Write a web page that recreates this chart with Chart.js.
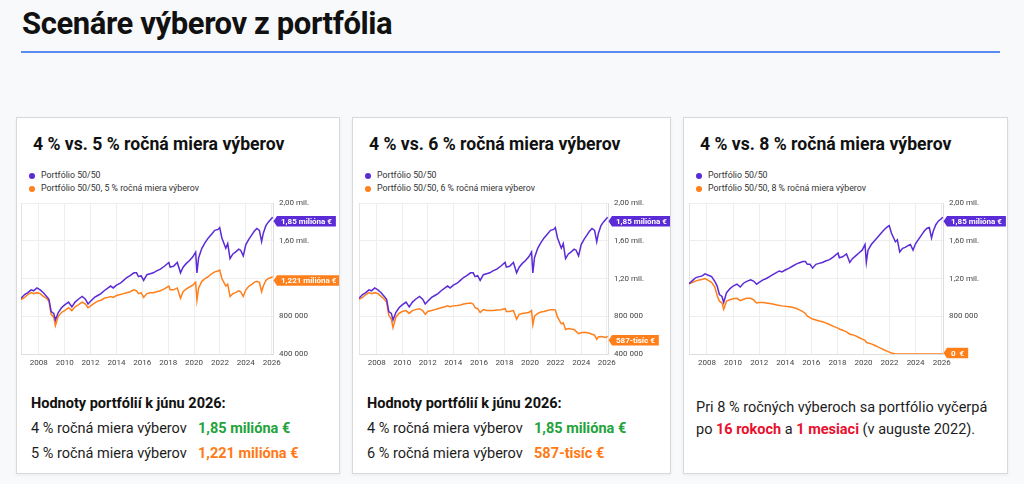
<!DOCTYPE html>
<html lang="sk">
<head>
<meta charset="utf-8">
<title>Scenáre výberov z portfólia</title>
<script src="https://cdn.jsdelivr.net/npm/chart.js@4.4.1/dist/chart.umd.min.js"></script>
<style>
  html, body { margin: 0; padding: 0; }
  body {
    width: 1024px; height: 484px; position: relative; overflow: hidden;
    background: #f8f9fa; color: #1d1d1d;
    font-family: Roboto, "Noto Sans", sans-serif;
  }
  h1 {
    position: absolute; left: 22px; top: 6px; margin: 0;
    font-size: 31px; line-height: 36px; font-weight: 700; color: #111;
    letter-spacing: -0.4px;
  }
  .rule { position: absolute; left: 21px; top: 51px; width: 979px; height: 2px; background: #5b8cf2; }
  .card {
    position: absolute; top: 117px; height: 357px; box-sizing: border-box;
    background: #fff; border: 1px solid #d9d9d9; box-shadow: 0 1px 3px rgba(0,0,0,.06);
  }
  .ctitle {
    position: absolute; left: 16px; top: 16px; white-space: nowrap;
    font-size: 17.6px; line-height: 20px; font-weight: 700; color: #111;
  }
  .legend { position: absolute; left: 12px; top: 51px; font-size: 8.8px; line-height: 13px; color: #333; white-space: nowrap; }
  .legend i { display: inline-block; width: 6px; height: 6px; border-radius: 50%; margin-right: 6px; vertical-align: -0.5px; }
  .cv { position: absolute; top: 78px; height: 177px; right: 0; }
  .summary { position: absolute; left: 14px; top: 273px; font-size: 14.5px; line-height: 25px; white-space: nowrap; }
  .summary .head { font-weight: 700; color: #111; }
  .row { position: relative; }
  .val { position: absolute; left: 167px; top: 0; font-weight: 700; }
  .green { color: #22a33c; }
  .orange { color: #ff7a14; }
  .note { position: absolute; left: 12px; top: 279px; font-size: 14.5px; line-height: 21.5px; white-space: nowrap; }
  .red { color: #e8112d; font-weight: 700; }
</style>
</head>
<body>
<h1>Scenáre výberov z portfólia</h1>
<div class="rule"></div>

<div class="card" style="left:16px;width:324px">
  <div class="ctitle">4 % vs. 5 % ročná miera výberov</div>
  <div class="legend">
    <div><i style="background:#5a2bd6"></i>Portfólio 50/50</div>
    <div><i style="background:#ff7f1a"></i>Portfólio 50/50, 5 % ročná miera výberov</div>
  </div>
  <div class="cv" style="left:4px"><canvas id="chart5"></canvas></div>
  <div class="summary">
    <div class="head">Hodnoty portfólií k júnu 2026:</div>
    <div class="row">4 % ročná miera výberov <span class="val green">1,85 milióna €</span></div>
    <div class="row">5 % ročná miera výberov <span class="val orange">1,221 milióna €</span></div>
  </div>
</div>

<div class="card" style="left:352px;width:319px">
  <div class="ctitle">4 % vs. 6 % ročná miera výberov</div>
  <div class="legend">
    <div><i style="background:#5a2bd6"></i>Portfólio 50/50</div>
    <div><i style="background:#ff7f1a"></i>Portfólio 50/50, 6 % ročná miera výberov</div>
  </div>
  <div class="cv" style="left:6px"><canvas id="chart6"></canvas></div>
  <div class="summary">
    <div class="head">Hodnoty portfólií k júnu 2026:</div>
    <div class="row">4 % ročná miera výberov <span class="val green">1,85 milióna €</span></div>
    <div class="row">6 % ročná miera výberov <span class="val orange">587-tisíc €</span></div>
  </div>
</div>

<div class="card" style="left:683px;width:325px">
  <div class="ctitle">4 % vs. 8 % ročná miera výberov</div>
  <div class="legend">
    <div><i style="background:#5a2bd6"></i>Portfólio 50/50</div>
    <div><i style="background:#ff7f1a"></i>Portfólio 50/50, 8 % ročná miera výberov</div>
  </div>
  <div class="cv" style="left:5px"><canvas id="chart8"></canvas></div>
  <div class="note">
    <div>Pri 8 % ročných výberoch sa portfólio vyčerpá</div>
    <div>po <span class="red">16 rokoch</span> a <span class="red">1 mesiaci</span> (v auguste 2022).</div>
  </div>
</div>

<script>
// časová os (roky) a hodnoty portfólií v miliónoch €
const years = [
  2006.62, 2006.9, 2007.15, 2007.4, 2007.6, 2007.85, 2008.1, 2008.35, 2008.6, 2008.78,
  2008.95, 2009.15, 2009.28, 2009.5, 2009.75, 2010.0, 2010.3, 2010.55, 2010.8, 2011.05,
  2011.35, 2011.6, 2011.8, 2012.0, 2012.3, 2012.55, 2012.8, 2013.05, 2013.35, 2013.55,
  2013.75, 2014.0, 2014.3, 2014.55, 2014.8, 2015.05, 2015.35, 2015.55, 2015.7, 2015.9,
  2016.1, 2016.35, 2016.6, 2016.85, 2017.1, 2017.4, 2017.7, 2018.05, 2018.15, 2018.4,
  2018.7, 2018.95, 2019.15, 2019.4, 2019.65, 2019.9, 2020.12, 2020.22, 2020.35, 2020.6,
  2020.85, 2021.1, 2021.35, 2021.6, 2021.85, 2021.98, 2022.15, 2022.45, 2022.6, 2022.78,
  2023.0, 2023.2, 2023.45, 2023.6, 2023.8, 2024.0, 2024.25, 2024.5, 2024.65, 2024.85,
  2025.05, 2025.22, 2025.35, 2025.55, 2025.75, 2025.95, 2026.08
];

// Portfólio 50/50 (4 %) - graf 1 a 2
const portfolio4 = [
  0.99, 1.03, 1.05, 1.08, 1.07, 1.10, 1.08, 1.05, 1.01, 0.98,
  0.85, 0.83, 0.76, 0.84, 0.89, 0.92, 0.95, 0.90, 0.95, 0.98,
  1.01, 0.98, 0.93, 0.96, 1.00, 1.02, 1.04, 1.07, 1.10, 1.12,
  1.10, 1.13, 1.15, 1.18, 1.21, 1.23, 1.26, 1.26, 1.22, 1.23,
  1.18, 1.24, 1.25, 1.26, 1.28, 1.30, 1.33, 1.37, 1.32, 1.33,
  1.37, 1.26, 1.32, 1.36, 1.39, 1.43, 1.48, 1.26, 1.42, 1.52,
  1.58, 1.63, 1.67, 1.71, 1.72, 1.74, 1.63, 1.52, 1.57, 1.41,
  1.46, 1.48, 1.51, 1.50, 1.44, 1.56, 1.62, 1.67, 1.70, 1.73,
  1.71, 1.59, 1.68, 1.76, 1.80, 1.83, 1.85
];

// 5 % ročná miera výberov
const portfolio5 = [
  0.975, 1.00, 1.03, 1.05, 1.04, 1.05, 1.04, 1.01, 0.99, 0.96,
  0.82, 0.79, 0.70, 0.80, 0.84, 0.86, 0.89, 0.86, 0.90, 0.92,
  0.95, 0.93, 0.89, 0.91, 0.94, 0.96, 0.97, 0.99, 1.00, 1.01,
  1.00, 1.02, 1.03, 1.04, 1.05, 1.06, 1.08, 1.07, 1.04, 1.05,
  1.00, 1.04, 1.05, 1.05, 1.06, 1.07, 1.09, 1.12, 1.08, 1.08,
  1.10, 0.99, 1.06, 1.09, 1.11, 1.13, 1.16, 0.97, 1.10, 1.17,
  1.20, 1.22, 1.25, 1.27, 1.28, 1.29, 1.20, 1.12, 1.14, 1.01,
  1.04, 1.05, 1.07, 1.06, 1.01, 1.08, 1.12, 1.14, 1.16, 1.17,
  1.16, 1.06, 1.12, 1.18, 1.20, 1.21, 1.221
];

// 6 % ročná miera výberov
const portfolio6 = [
  0.98, 1.00, 1.03, 1.05, 1.04, 1.05, 1.04, 1.01, 0.98, 0.95,
  0.81, 0.77, 0.68, 0.79, 0.83, 0.85, 0.86, 0.83, 0.86, 0.87,
  0.88, 0.86, 0.82, 0.85, 0.86, 0.87, 0.88, 0.89, 0.90, 0.91,
  0.90, 0.91, 0.915, 0.92, 0.93, 0.935, 0.94, 0.93, 0.89, 0.88,
  0.84, 0.87, 0.86, 0.86, 0.86, 0.865, 0.87, 0.88, 0.85, 0.85,
  0.86, 0.77, 0.82, 0.83, 0.835, 0.84, 0.86, 0.71, 0.80, 0.83,
  0.845, 0.85, 0.86, 0.87, 0.87, 0.865, 0.79, 0.72, 0.73, 0.66,
  0.67, 0.665, 0.66, 0.64, 0.615, 0.625, 0.63, 0.625, 0.62, 0.61,
  0.60, 0.555, 0.58, 0.585, 0.58, 0.575, 0.587
];

// Portfólio 50/50 (4 %) - graf 3
const portfolio4b = [
  1.145, 1.18, 1.21, 1.22, 1.225, 1.25, 1.235, 1.22, 1.17, 1.12,
  1.03, 1.01, 0.945, 1.05, 1.09, 1.12, 1.14, 1.11, 1.15, 1.17,
  1.185, 1.17, 1.14, 1.16, 1.185, 1.20, 1.22, 1.24, 1.265, 1.28,
  1.27, 1.29, 1.31, 1.33, 1.35, 1.365, 1.38, 1.38, 1.35, 1.35,
  1.31, 1.35, 1.36, 1.37, 1.385, 1.40, 1.43, 1.47, 1.42, 1.43,
  1.46, 1.37, 1.41, 1.44, 1.47, 1.50, 1.56, 1.37, 1.50, 1.56,
  1.60, 1.64, 1.68, 1.72, 1.75, 1.76, 1.68, 1.59, 1.61, 1.48,
  1.52, 1.53, 1.55, 1.56, 1.50, 1.57, 1.62, 1.67, 1.70, 1.73,
  1.74, 1.63, 1.70, 1.77, 1.81, 1.83, 1.85
];

// 8 % ročná miera výberov
const portfolio8 = [
  1.145, 1.16, 1.175, 1.185, 1.19, 1.20, 1.18, 1.16, 1.11, 1.02,
  0.96, 0.94, 0.875, 0.96, 0.975, 0.985, 0.99, 0.965, 0.98, 0.99,
  0.99, 0.97, 0.94, 0.945, 0.945, 0.94, 0.935, 0.93, 0.92, 0.915,
  0.91, 0.905, 0.90, 0.895, 0.885, 0.87, 0.85, 0.83, 0.80, 0.77,
  0.74, 0.72, 0.70, 0.685, 0.66, 0.625, 0.585, 0.55, 0.53, 0.505,
  0.47, 0.42, 0.41, 0.385, 0.35, 0.315, 0.29, 0.245, 0.235, 0.215,
  0.185, 0.15, 0.12, 0.085, 0.055, 0.04, 0.02, 0, 0, 0,
  0, 0, 0, 0, 0, 0, 0, 0, 0, 0,
  0, 0, 0, 0, 0, 0, 0
];

const xTicks = [2008, 2010, 2012, 2014, 2016, 2018, 2020, 2022, 2024, 2026];
const yTicks = [0.4, 0.8, 1.2, 1.6, 2.0];
const yTicks8 = [0, 0.8, 1.2, 1.6, 2.0];

const PURPLE = '#5a2bd6';
const ORANGE = '#ff7f1a';

// os Y grafu 3: pod 800 000 je stupnica stlačená (0 € leží na spodnom okraji)
function warp(v) { return v < 0.8 ? 0.4 + v / 2 : v; }
function unwarp(d) { return d < 0.8 ? (d - 0.4) * 2 : d; }

const LinearScale = Chart.LinearScale || Chart.registry.getScale('linear');
class WarpScale extends LinearScale {
    getPixelForValue(value) {
        return super.getPixelForValue(value === null ? null : warp(value));
    }
    getValueForPixel(pixel) {
        return unwarp(super.getValueForPixel(pixel));
    }
}
WarpScale.id = 'warp';
WarpScale.defaults = LinearScale.defaults;
Chart.register(WarpScale);

function formatTick(v) {
    if (v === 0) return '';
    if (v >= 1) return v.toFixed(2).replace('.', ',') + ' mil.';
    return Math.round(v * 1000) + ' 000';
}

function toPoints(values) {
    return years.map((x, i) => ({ x: x, y: values[i] }));
}

/**
 * štítky s poslednou hodnotou napravo + ľavý okraj grafu
 */
function badgePlugin(badges) {
    return {
        id: 'badges',
        beforeDatasetsDraw(chart) {
            const a = chart.chartArea, ctx = chart.ctx;
            ctx.save();
            ctx.strokeStyle = '#e4e4e4';
            ctx.lineWidth = 1;
            ctx.beginPath();
            ctx.moveTo(a.left + 0.5, a.top);
            ctx.lineTo(a.left + 0.5, a.bottom);
            ctx.stroke();
            ctx.restore();
        },
        afterDraw(chart) {
            const ctx = chart.ctx, a = chart.chartArea, ys = chart.scales.y;
            ctx.save();
            ctx.font = 'bold 8px Roboto, sans-serif';
            badges.forEach(b => {
                const data = chart.data.datasets[b.dataset].data;
                const y = ys.getPixelForValue(data[data.length - 1].y) + b.dy;
                const tip = a.right + 0.5, x0 = tip + 3.5;
                const w = ctx.measureText(b.text).width + 8, h = 10.5;
                ctx.fillStyle = b.color;
                ctx.beginPath();
                ctx.moveTo(tip, y);
                ctx.lineTo(x0, y - h / 2);
                ctx.lineTo(x0 + w, y - h / 2);
                ctx.lineTo(x0 + w, y + h / 2);
                ctx.lineTo(x0, y + h / 2);
                ctx.closePath();
                ctx.fill();
                ctx.fillStyle = '#fff';
                ctx.textBaseline = 'middle';
                ctx.fillText(b.text, x0 + 4, y + 0.5);
            });
            ctx.restore();
        }
    };
}

function createChart(id, mainValues, withdrawValues, yType, ticksY, axisWidth, badges) {
    const ctx = document.getElementById(id);
    if (!ctx) return;

    const tickFont = { family: 'Roboto, sans-serif', size: 8 };

    new Chart(ctx, {
        type: 'line',
        data: {
            datasets: [
                { data: toPoints(mainValues), borderColor: PURPLE, borderWidth: 1.5, pointRadius: 0, tension: 0 },
                { data: toPoints(withdrawValues), borderColor: ORANGE, borderWidth: 1.5, pointRadius: 0, tension: 0 }
            ]
        },
        options: {
            animation: false,
            responsive: true,
            maintainAspectRatio: false,
            events: [],
            layout: { padding: { top: 7, left: 0, right: 0, bottom: 0 } },
            plugins: { legend: { display: false }, tooltip: { enabled: false } },
            scales: {
                x: {
                    type: 'linear',
                    min: 2006.62,
                    max: 2026.1,
                    afterBuildTicks: s => { s.ticks = xTicks.map(v => ({ value: v })); },
                    afterFit: s => { s.height = 19; s.paddingLeft = 0; s.paddingRight = 0; },
                    grid: { color: '#eeeeee', drawTicks: false },
                    border: { color: '#dedede' },
                    ticks: {
                        autoSkip: false, maxRotation: 0, padding: 4,
                        color: '#444', font: tickFont,
                        callback: v => String(v)
                    }
                },
                y: {
                    type: yType,
                    position: 'right',
                    min: 0.4,
                    max: 2.0,
                    afterBuildTicks: s => { s.ticks = ticksY.map(v => ({ value: v })); },
                    afterFit: s => { s.width = axisWidth; s.paddingTop = 0; s.paddingBottom = 0; },
                    grid: { color: '#eeeeee', drawTicks: false },
                    border: { color: '#dedede' },
                    ticks: { padding: 6, color: '#444', font: tickFont, callback: formatTick }
                }
            }
        },
        plugins: [badgePlugin(badges)]
    });
}

createChart('chart5', portfolio4, portfolio5, 'linear', yTicks, 66, [
    { dataset: 0, text: '1,85 milióna €', color: PURPLE, dy: 4 },
    { dataset: 1, text: '1,221 milióna €', color: ORANGE, dy: 4 }
]);
createChart('chart6', portfolio4, portfolio6, 'linear', yTicks, 62, [
    { dataset: 0, text: '1,85 milióna €', color: PURPLE, dy: 4 },
    { dataset: 1, text: '587-tisíc €', color: ORANGE, dy: 4 }
]);
createChart('chart8', portfolio4b, portfolio8, 'warp', yTicks8, 64, [
    { dataset: 0, text: '1,85 milióna €', color: PURPLE, dy: 4 },
    { dataset: 1, text: '0  €', color: ORANGE, dy: -1 }
]);
</script>
</body>
</html>
